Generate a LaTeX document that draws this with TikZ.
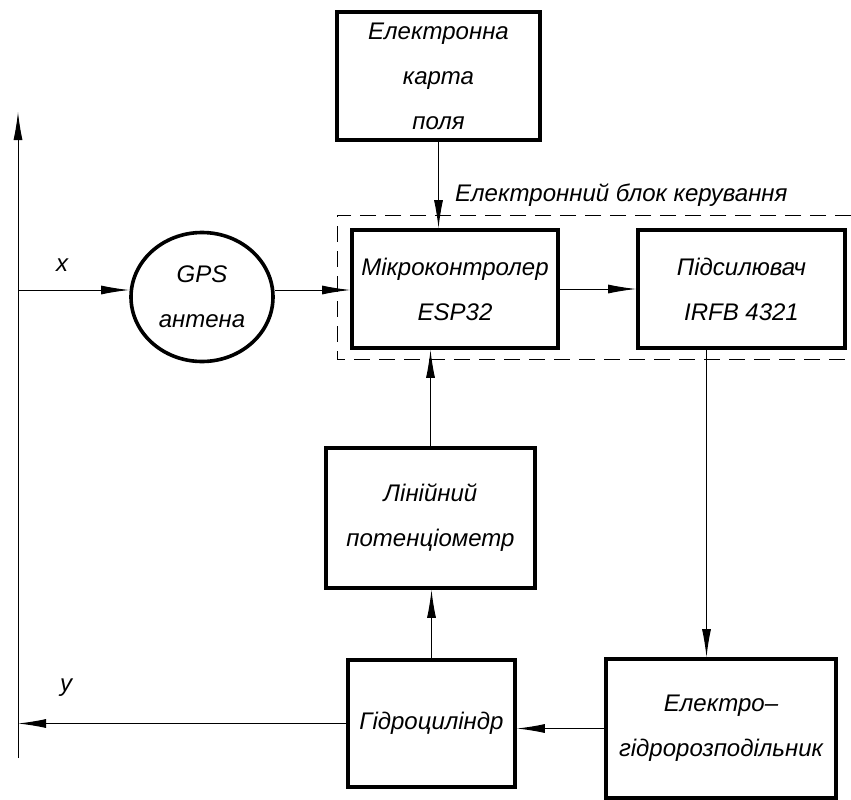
\documentclass[tikz,border=0pt]{standalone}
\usepackage{fontspec}
\setmainfont{Liberation Sans}
\usetikzlibrary{arrows.meta,shapes.geometric,positioning}

\begin{document}
\begin{tikzpicture}[x=1pt,y=1pt,yscale=-1,
  blok/.style={draw,line width=3.6pt,align=center,inner sep=0pt,
    font=\fontsize{24}{45}\selectfont\itshape},
  strl/.style={-{Latex[length=28pt,width=9pt]},line width=1pt},
  napys/.style={font=\fontsize{24}{28}\selectfont\itshape,inner sep=0pt}]
\useasboundingbox (0,0) rectangle (851,800);

%Blocks
\node[blok,minimum width=203pt,minimum height=128pt] (karta) at (438.5,76) {Електронна\\карта\\поля};
\node[blok,ellipse,minimum width=142pt,minimum height=129pt] (gps) at (202,297) {GPS\\антена};
\node[blok,minimum width=206pt,minimum height=118pt] (mk) at (455,289) {Мікроконтролер\\ESP32};
\node[blok,minimum width=207pt,minimum height=118pt] (pidsil) at (741.5,289) {Підсилювач\\IRFB 4321};
\node[blok,minimum width=209pt,minimum height=140pt] (pot) at (430.5,518) {Лінійний\\потенціометр};
\node[blok,minimum width=167pt,minimum height=127pt] (gidro) at (431.5,723.5) {Гідроциліндр};
\node[blok,minimum width=230pt,minimum height=139pt] (elektro) at (721,728.5) {Електро–\\гідророзподільник};

%Electronic control unit
\draw[dashed,line width=1pt,dash pattern=on 16pt off 9pt] (851,215) -| (337,359) -- (851,359);
\node[napys,anchor=south west] (ebk) at (455,207) {Електронний блок керування};

%Axis
\coordinate (vis0) at (18,758);
\coordinate (vis1) at (18,112);
\coordinate (xin) at (18,290);
\coordinate (yout) at (18,722);
\draw[strl] (vis0) -- (vis1);
\node[napys] (xlab) at (62,265) {x};
\node[napys] (ylab) at (66,688) {y};

%Connectors
\draw[strl] (xin) -- (xin -| gps.west);
\draw[strl] (xin -| gps.east) -- (xin -| mk.west);
\draw[strl] (karta.south) -- (karta.south |- mk.north);
\draw[strl] (mk.east) -- (pidsil.west);
\draw[strl] ([xshift=-35pt]pidsil.south) -- ([xshift=-35pt]pidsil.south |- elektro.north);
\draw[strl] (elektro.west) -- (elektro.west -| gidro.east);
\draw[strl] (gidro.north) -- (gidro.north |- pot.south);
\draw[strl] (pot.north) -- (pot.north |- mk.south);
\draw[strl] (gidro.west) -- (gidro.west -| yout);

\end{tikzpicture}
\end{document}
